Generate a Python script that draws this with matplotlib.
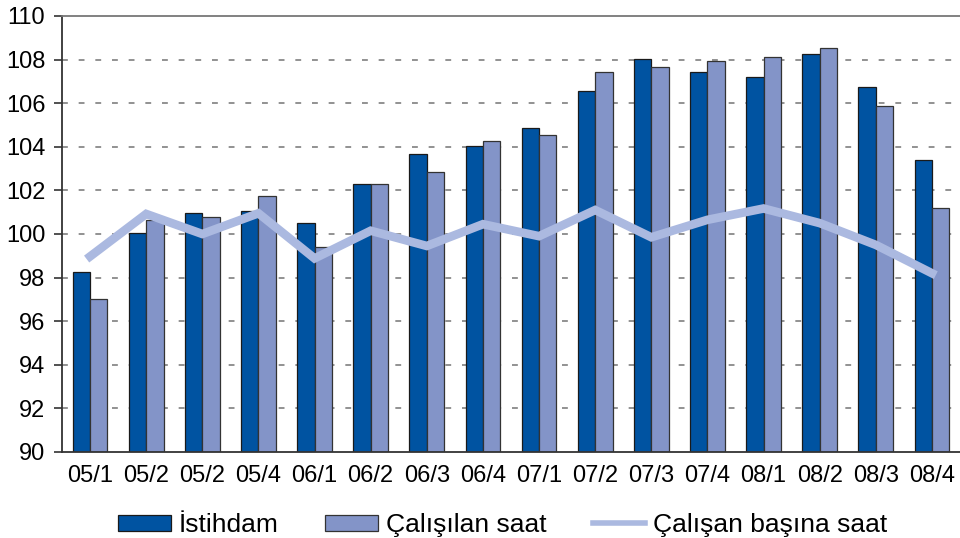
import matplotlib
matplotlib.use("Agg")
import matplotlib.pyplot as plt
import numpy as np
from matplotlib.lines import Line2D
from matplotlib.patches import Patch

plt.rcParams['font.family'] = ['Liberation Sans', 'DejaVu Sans']

categories = ["05/1", "05/2", "05/2", "05/4", "06/1", "06/2", "06/3", "06/4",
              "07/1", "07/2", "07/3", "07/4", "08/1", "08/2", "08/3", "08/4"]
istihdam = [98.25, 100.05, 100.95, 101.05, 100.5, 102.3, 103.65, 104.05,
            104.85, 106.55, 108.05, 107.45, 107.2, 108.25, 106.75, 103.4]
calisilan_saat = [97.0, 100.65, 100.8, 101.75, 99.4, 102.3, 102.85, 104.25,
                  104.55, 107.45, 107.65, 107.95, 108.1, 108.55, 105.85, 101.2]
calisan_basina = [98.97, 100.92, 100.0, 100.95, 98.88, 100.15, 99.45, 100.45,
                  99.9, 101.1, 99.85, 100.65, 101.17, 100.5, 99.5, 98.2]
yticks = [90, 92, 94, 96, 98, 100, 102, 104, 106, 108, 110]

c_dark = "#0053A1"
c_light = "#8394C8"
c_line = "#ABB9E0"

fig = plt.figure(figsize=(9.6, 5.38), dpi=100)
ax = fig.add_axes([62 / 960, 1 - 452 / 538, 1 - 62 / 960, (452 - 16) / 538])

x = np.arange(len(categories))
w = 0.31
ax.bar(x - w / 2, [v - 90 for v in istihdam], w, bottom=90, color=c_dark,
       edgecolor="#1a1a1a", linewidth=0.9, zorder=2)
ax.bar(x + w / 2, [v - 90 for v in calisilan_saat], w, bottom=90, color=c_light,
       edgecolor="#333333", linewidth=0.9, zorder=2)
ax.plot(x, calisan_basina, color=c_line, linewidth=6.2, zorder=3,
        solid_joinstyle="miter")

ax.set_xlim(-0.5, len(categories) - 0.5)
ax.set_ylim(90, 110)
ax.set_yticks(yticks)
ax.set_yticklabels([str(t) for t in yticks])
ax.set_xticks(x)
ax.set_xticklabels(categories)
ax.tick_params(axis='y', labelsize=17, length=6, width=1.2, color="#333333",
               pad=6)
ax.tick_params(axis='x', labelsize=17, length=0, pad=9)

for t in yticks[1:-1]:
    ax.axhline(t, color="#7f7f7f", linewidth=1.2, linestyle=(0, (3.5, 6.5)),
               zorder=1)

ax.spines['right'].set_visible(False)
ax.spines['top'].set_color("#777777")
ax.spines['top'].set_linewidth(1.3)
ax.spines['left'].set_color("#333333")
ax.spines['left'].set_linewidth(1.3)
ax.spines['bottom'].set_color("#333333")
ax.spines['bottom'].set_linewidth(1.3)

handles = [
    Patch(facecolor=c_dark, edgecolor="#1a1a1a", linewidth=0.9),
    Patch(facecolor=c_light, edgecolor="#333333", linewidth=0.9),
    Line2D([0], [0], color=c_line, linewidth=4),
]
labels = ["İstihdam", "Çalışılan saat", "Çalışan başına saat"]
fig.legend(handles, labels, loc="center", ncol=3, frameon=False,
           bbox_to_anchor=(503 / 960, 13 / 538), fontsize=19,
           handlelength=2.0, handleheight=0.55, handletextpad=0.3,
           columnspacing=1.75, borderpad=0, borderaxespad=0)

fig.savefig("out.png", dpi=100)
